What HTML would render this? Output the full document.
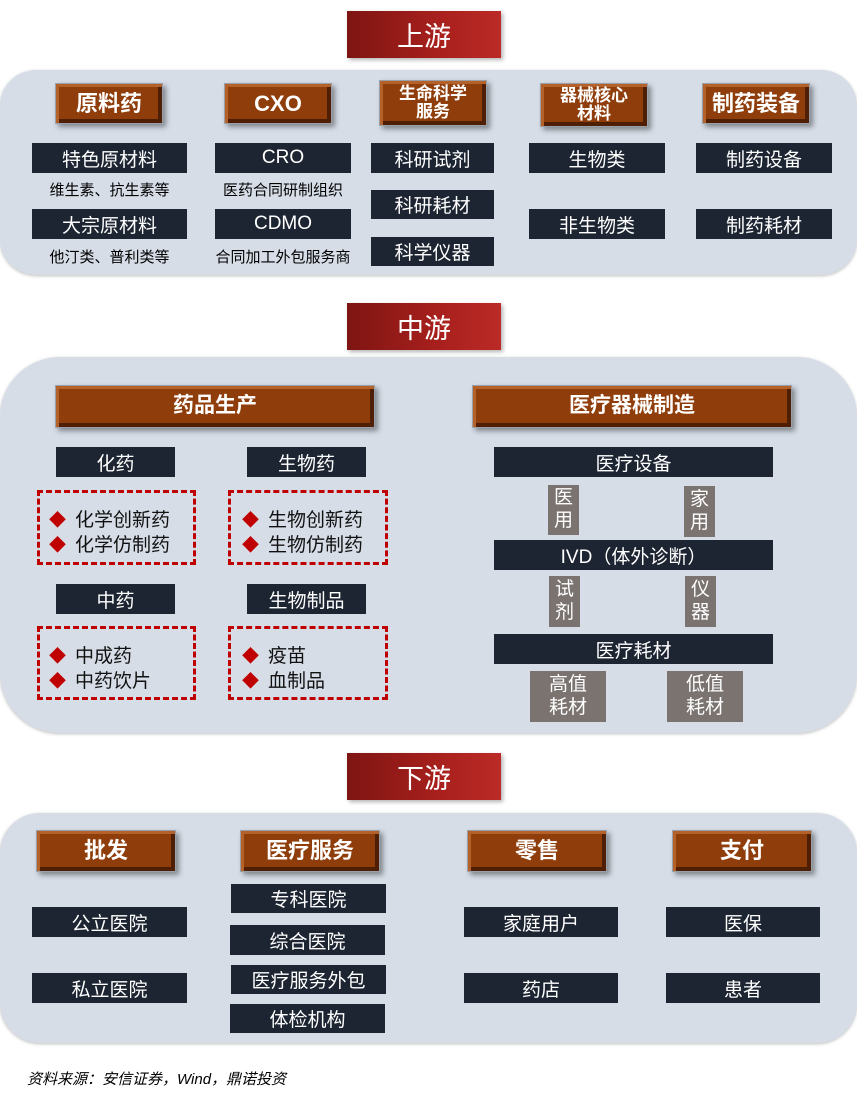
<!DOCTYPE html>
<html><head><meta charset="utf-8">
<style>
*{margin:0;padding:0;box-sizing:border-box}
body{width:857px;height:1098px;background:#fff;position:relative;overflow:hidden;font-family:"Liberation Sans","Noto Sans CJK SC",sans-serif}
div{position:absolute}
.pan{background:#d6dde7;box-shadow:0 1px 3px rgba(0,0,0,.25)}
.hd{background:linear-gradient(90deg,#7e1512,#a8201d 60%,#bb2a26);color:#fff;font-size:27px;display:flex;align-items:center;justify-content:center;box-shadow:2px 2px 4px rgba(0,0,0,.3)}
.br{background:#8f3e0b;color:#fff;font-weight:bold;display:flex;align-items:center;justify-content:center;text-align:center;border:1px solid #9aa0aa;
box-shadow:inset 3px 3px 0 #b5622a,inset -4px -4px 0 #4e1f05,3px 3px 5px rgba(0,0,0,.4);line-height:1.05}
.dk{background:#1d2532;color:#fff;font-size:19px;display:flex;align-items:center;justify-content:center;white-space:nowrap}
.gr{background:#7a7370;color:#fff;font-size:19px;display:flex;align-items:center;justify-content:center;text-align:center;line-height:1.2}
.tx{font-size:15px;color:#000;white-space:nowrap;text-align:center}
.ds{border:3px dashed #c00000}
.li{font-size:19px;color:#111;white-space:nowrap}
.li b{color:#c00000;font-size:17px;font-weight:normal;margin-right:9px}
</style></head><body>

<div class="pan" style="left:0;top:70px;width:857px;height:205px;border-radius:36px"></div>
<div class="pan" style="left:0;top:357px;width:857px;height:376px;border-radius:60px"></div>
<div class="pan" style="left:0;top:813px;width:857px;height:230px;border-radius:40px"></div>

<div class="hd" style="left:347px;top:11px;width:154px;height:47px">上游</div>
<div class="hd" style="left:347px;top:303px;width:154px;height:47px">中游</div>
<div class="hd" style="left:347px;top:753px;width:154px;height:47px">下游</div>

<!-- top -->
<div class="br" style="left:55px;top:83px;width:108px;height:41px;font-size:22px">原料药</div>
<div class="br" style="left:224px;top:83px;width:108px;height:41px;font-size:22px">CXO</div>
<div class="br" style="left:379px;top:80px;width:108px;height:46px;font-size:17px">生命科学<br>服务</div>
<div class="br" style="left:540px;top:83px;width:108px;height:44px;font-size:17px">器械核心<br>材料</div>
<div class="br" style="left:702px;top:83px;width:108px;height:41px;font-size:22px">制药装备</div>

<div class="dk" style="left:32px;top:143px;width:155px;height:30px">特色原材料</div>
<div class="dk" style="left:215px;top:143px;width:136px;height:30px">CRO</div>
<div class="dk" style="left:371px;top:143px;width:123px;height:30px">科研试剂</div>
<div class="dk" style="left:529px;top:143px;width:136px;height:30px">生物类</div>
<div class="dk" style="left:696px;top:143px;width:136px;height:30px">制药设备</div>
<div class="tx" style="left:32px;top:179px;width:155px">维生素、抗生素等</div>
<div class="tx" style="left:205px;top:179px;width:156px">医药合同研制组织</div>
<div class="dk" style="left:371px;top:190px;width:123px;height:29px">科研耗材</div>
<div class="dk" style="left:32px;top:209px;width:155px;height:30px">大宗原材料</div>
<div class="dk" style="left:215px;top:209px;width:136px;height:30px">CDMO</div>
<div class="dk" style="left:529px;top:209px;width:136px;height:30px">非生物类</div>
<div class="dk" style="left:696px;top:209px;width:136px;height:30px">制药耗材</div>
<div class="tx" style="left:32px;top:246px;width:155px">他汀类、普利类等</div>
<div class="tx" style="left:200px;top:246px;width:166px">合同加工外包服务商</div>
<div class="dk" style="left:371px;top:237px;width:123px;height:29px">科学仪器</div>

<!-- mid -->
<div class="br" style="left:55px;top:385px;width:320px;height:43px;font-size:21px">药品生产</div>
<div class="br" style="left:472px;top:385px;width:320px;height:43px;font-size:21px">医疗器械制造</div>
<div class="dk" style="left:56px;top:447px;width:119px;height:30px">化药</div>
<div class="dk" style="left:247px;top:447px;width:119px;height:30px">生物药</div>
<div class="ds" style="left:37px;top:490px;width:159px;height:75px"></div>
<div class="ds" style="left:228px;top:490px;width:160px;height:75px"></div>
<div class="li" style="left:49px;top:505px"><b>◆</b>化学创新药</div>
<div class="li" style="left:49px;top:530px"><b>◆</b>化学仿制药</div>
<div class="li" style="left:242px;top:505px"><b>◆</b>生物创新药</div>
<div class="li" style="left:242px;top:530px"><b>◆</b>生物仿制药</div>
<div class="dk" style="left:56px;top:584px;width:119px;height:30px">中药</div>
<div class="dk" style="left:247px;top:584px;width:119px;height:30px">生物制品</div>
<div class="ds" style="left:37px;top:626px;width:159px;height:74px"></div>
<div class="ds" style="left:228px;top:626px;width:160px;height:74px"></div>
<div class="li" style="left:49px;top:641px"><b>◆</b>中成药</div>
<div class="li" style="left:49px;top:666px"><b>◆</b>中药饮片</div>
<div class="li" style="left:242px;top:641px"><b>◆</b>疫苗</div>
<div class="li" style="left:242px;top:666px"><b>◆</b>血制品</div>

<div class="dk" style="left:494px;top:447px;width:279px;height:30px">医疗设备</div>
<div class="gr" style="left:548px;top:485px;width:31px;height:50px">医<br>用</div>
<div class="gr" style="left:684px;top:486px;width:31px;height:51px">家<br>用</div>
<div class="dk" style="left:494px;top:540px;width:279px;height:30px">IVD（体外诊断）</div>
<div class="gr" style="left:549px;top:576px;width:31px;height:51px">试<br>剂</div>
<div class="gr" style="left:685px;top:576px;width:31px;height:51px">仪<br>器</div>
<div class="dk" style="left:494px;top:634px;width:279px;height:30px">医疗耗材</div>
<div class="gr" style="left:530px;top:671px;width:76px;height:51px">高值<br>耗材</div>
<div class="gr" style="left:667px;top:671px;width:76px;height:51px">低值<br>耗材</div>

<!-- bottom -->
<div class="br" style="left:36px;top:830px;width:140px;height:42px;font-size:22px">批发</div>
<div class="br" style="left:240px;top:830px;width:140px;height:42px;font-size:22px">医疗服务</div>
<div class="br" style="left:467px;top:830px;width:140px;height:42px;font-size:22px">零售</div>
<div class="br" style="left:672px;top:830px;width:140px;height:42px;font-size:22px">支付</div>
<div class="dk" style="left:32px;top:907px;width:155px;height:30px">公立医院</div>
<div class="dk" style="left:32px;top:973px;width:155px;height:30px">私立医院</div>
<div class="dk" style="left:231px;top:884px;width:155px;height:29px">专科医院</div>
<div class="dk" style="left:230px;top:925px;width:155px;height:30px">综合医院</div>
<div class="dk" style="left:231px;top:965px;width:155px;height:29px">医疗服务外包</div>
<div class="dk" style="left:230px;top:1004px;width:155px;height:29px">体检机构</div>
<div class="dk" style="left:464px;top:907px;width:154px;height:30px">家庭用户</div>
<div class="dk" style="left:464px;top:973px;width:154px;height:30px">药店</div>
<div class="dk" style="left:666px;top:907px;width:154px;height:30px">医保</div>
<div class="dk" style="left:666px;top:973px;width:154px;height:30px">患者</div>

<div style="left:27px;top:1068px;font-size:15px;font-style:italic;color:#000;white-space:nowrap">资料来源：安信证券，Wind，鼎诺投资</div>
</body></html>
